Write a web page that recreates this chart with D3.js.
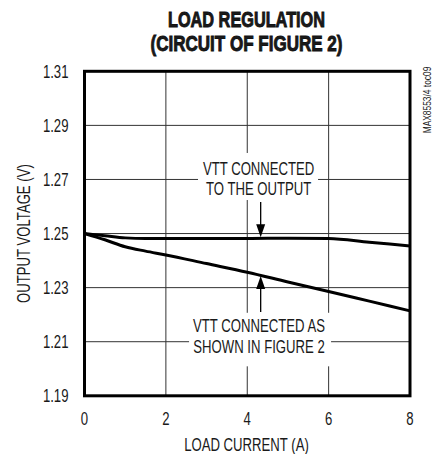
<!DOCTYPE html>
<html>
<head>
<meta charset="utf-8">
<script src="https://cdn.jsdelivr.net/npm/d3@7"></script>
<style>
  html, body { margin: 0; padding: 0; background: #fff; }
  svg { display: block; }
  text { font-family: "Liberation Sans", Arial, sans-serif; fill: #1a1a1a; }
</style>
</head>
<body>
<svg id="chart" width="434" height="454"></svg>
<script>
// ---- data ----
const currents = [0, 0.5, 1, 1.5, 2, 3, 4, 5, 6, 7, 8];
const vttToOutput = [1.2500, 1.2492, 1.2484, 1.2482, 1.2482, 1.2482, 1.2482, 1.2483, 1.2482, 1.2468, 1.2454];
const vttFigure2  = [1.2500, 1.2477, 1.2451, 1.2435, 1.2421, 1.2389, 1.2357, 1.2321, 1.2286, 1.2250, 1.2214];
const xTicks = [0, 2, 4, 6, 8];
const yTicks = [1.19, 1.21, 1.23, 1.25, 1.27, 1.29, 1.31];
const titleLines = ["LOAD REGULATION", "(CIRCUIT OF FIGURE 2)"];
const xTitle = "LOAD CURRENT (A)";
const yTitle = "OUTPUT VOLTAGE (V)";
const sideNote = "MAX8553/4 toc09";
const label1 = ["VTT CONNECTED", "TO THE OUTPUT"];
const label2 = ["VTT CONNECTED AS", "SHOWN IN FIGURE 2"];

const svg = d3.select("#chart");
const x = d3.scaleLinear().domain([0, 8]).range([84.5, 410]);
const y = d3.scaleLinear().domain([1.19, 1.31]).range([395.8, 71.3]);

// grid
const grid = svg.append("g").attr("stroke", "#333").attr("stroke-width", 1);
grid.selectAll("line.v").data(xTicks.slice(1, -1)).join("line")
  .attr("x1", d => x(d)).attr("x2", d => x(d))
  .attr("y1", y(1.31)).attr("y2", y(1.19));
grid.selectAll("line.h").data(yTicks.slice(1, -1)).join("line")
  .attr("x1", x(0)).attr("x2", x(8))
  .attr("y1", d => y(d)).attr("y2", d => y(d));

// label background boxes (break the grid)
const boxes = [
  {x0: 2.79, x1: 5.74, y0: 1.2798, y1: 1.2624},
  {x0: 2.57, x1: 6.06, y0: 1.2207, y1: 1.2009}
];
svg.append("g").selectAll("rect").data(boxes).join("rect")
  .attr("x", d => x(d.x0)).attr("width", d => x(d.x1) - x(d.x0))
  .attr("y", d => y(d.y0)).attr("height", d => y(d.y1) - y(d.y0))
  .attr("fill", "#fff");

// curves
const line = d3.line().x((d, i) => x(currents[i])).y(d => y(d)).curve(d3.curveMonotoneX);
svg.append("g").selectAll("path").data([vttToOutput, vttFigure2]).join("path")
  .attr("d", line).attr("fill", "none").attr("stroke", "#000").attr("stroke-width", 3)
  .attr("stroke-linejoin", "round");

// frame
svg.append("rect").attr("x", x(0)).attr("y", y(1.31))
  .attr("width", x(8) - x(0)).attr("height", y(1.19) - y(1.31))
  .attr("fill", "none").attr("stroke", "#000").attr("stroke-width", 3);

// arrows
const arrowX = 4.33;
function arrow(yFrom, yTip) {
  const xa = x(arrowX), y0 = y(yFrom), y1 = y(yTip);
  const dir = y1 > y0 ? 1 : -1;
  svg.append("line").attr("x1", xa).attr("x2", xa).attr("y1", y0).attr("y2", y1 - dir * 10)
    .attr("stroke", "#000").attr("stroke-width", 1.3);
  svg.append("path")
    .attr("d", `M${xa - 4.5},${y1 - dir * 13} L${xa + 4.5},${y1 - dir * 13} L${xa},${y1} Z`)
    .attr("fill", "#000");
}
arrow(1.2617, 1.2486);
arrow(1.2210, 1.2343);

// annotation text
function label(lines, yv, cx, gap) {
  svg.append("g").selectAll("text").data(lines).join("text")
    .attr("class", "narrow")
    .attr("x", x(cx)).attr("y", (d, i) => y(yv) + i * gap)
    .attr("text-anchor", "middle").attr("font-size", 18).text(d => d);
}
label(label1, 1.2717, 4.28, 20);
label(label2, 1.2137, 4.29, 21.5);

// y tick labels
svg.append("g").selectAll("text").data(yTicks).join("text")
  .attr("class", "narrow")
  .attr("x", 68.5).attr("y", d => y(d) + 6.5)
  .attr("text-anchor", "end").attr("font-size", 18).text(d => d.toFixed(2));

// x tick labels
svg.append("g").selectAll("text").data(xTicks).join("text")
  .attr("class", "narrow")
  .attr("x", d => x(d)).attr("y", 425)
  .attr("text-anchor", "middle").attr("font-size", 18).text(d => d);

// axis titles
svg.append("text").attr("class", "narrow").attr("x", 246.5).attr("y", 450.5).attr("text-anchor", "middle")
  .attr("font-size", 18).text(xTitle);
svg.append("text").attr("class", "narrow").attr("transform", `translate(29.5,${y(1.25)}) rotate(-90)`)
  .attr("text-anchor", "middle").attr("font-size", 18).text(yTitle);

// title
svg.append("g").selectAll("text").data(titleLines).join("text")
  .attr("x", 246.5).attr("y", (d, i) => 26.5 + i * 24.5)
  .attr("text-anchor", "middle").attr("font-size", 21.5).attr("font-weight", "bold")
  .attr("stroke", "#111").attr("stroke-width", 0.9)
  .attr("textLength", (d, i) => [157, 192][i]).attr("lengthAdjust", "spacingAndGlyphs")
  .text(d => d);

// side note
svg.append("text").attr("class", "narrow").attr("transform", "translate(431,100) rotate(-90)")
  .attr("text-anchor", "middle").attr("font-size", 11.5).text(sideNote);

// condense regular text to a narrow face
svg.selectAll("text.narrow").each(function () {
  const w = this.getComputedTextLength();
  d3.select(this).attr("textLength", w * 0.73).attr("lengthAdjust", "spacingAndGlyphs");
});
</script>
</body>
</html>
